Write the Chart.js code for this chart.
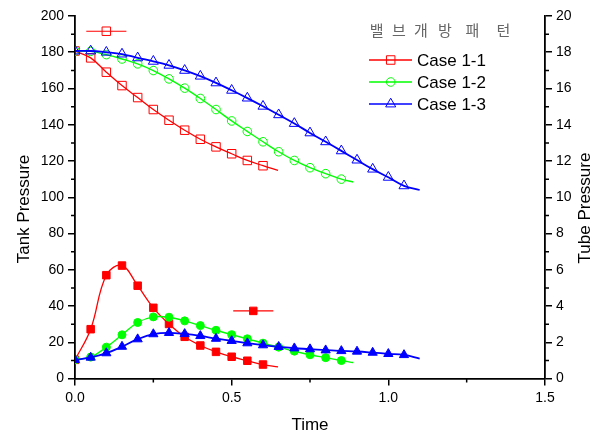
<!DOCTYPE html>
<html>
<head>
<meta charset="utf-8">
<script src="https://cdn.jsdelivr.net/npm/chart.js@4/dist/chart.umd.min.js"></script>
<style>
  html, body { margin: 0; padding: 0; background: #fff; }
  #wrap { width: 606px; height: 437px; }
</style>
</head>
<body>
<div id="wrap"><canvas id="myCanvas" width="606" height="437"></canvas></div>
<script>
'use strict';

// data

const times = [0, 0.05, 0.1, 0.15, 0.2, 0.25, 0.3, 0.35, 0.4, 0.45, 0.5,
  0.55, 0.6, 0.65, 0.7, 0.75, 0.8, 0.85, 0.9, 0.95, 1.0, 1.05];

// tank pressure (left axis), open markers
const tank11 = [180.7, 176.9, 169, 161.6, 155, 148.4, 142.5, 137, 132, 127.8, 124, 120.3, 117.4];
const tank11End = [0.648, 114.8];
const tank12 = [180.7, 180.5, 178.7, 176.3, 173.6, 169.9, 165.3, 160.2, 154.5, 148.4, 142.1,
  136.3, 130.6, 125.1, 120.3, 116.3, 113, 110];
const tank12End = [0.888, 108.4];
const tank13 = [180.7, 180.7, 180, 179, 176.9, 175, 172.8, 170, 166.8, 163.1, 159,
  154.7, 150.2, 145.5, 140.7, 135.5, 130.6, 125.6, 120.5, 115.5, 111, 106.3];
const tank13End = [1.1, 104];

// tube pressure (right axis), filled markers
const tube11 = [1.03, 2.72, 5.70, 6.23, 5.12, 3.90, 3.01, 2.30, 1.82, 1.47, 1.20, 0.98, 0.77];
const tube11End = [0.648, 0.64];
const tube12 = [1.03, 1.18, 1.73, 2.41, 3.09, 3.40, 3.38, 3.18, 2.92, 2.66, 2.42,
  2.19, 1.95, 1.73, 1.51, 1.31, 1.15, 0.99];
const tube12End = [0.888, 0.88];
const tube13 = [1.03, 1.16, 1.40, 1.76, 2.17, 2.45, 2.52, 2.46, 2.35, 2.20, 2.08,
  1.95, 1.84, 1.75, 1.67, 1.62, 1.56, 1.52, 1.49, 1.43, 1.36, 1.30];
const tube13End = [1.1, 1.10];

// two stray legend marks left in the plot
const strayTankX = [0.036, 0.1, 0.164];
const strayTankY = [191.6, 191.6, 191.6];
const strayTubeX = [0.505, 0.569, 0.633];
const strayTubeY = [3.73, 3.73, 3.73];

const caseNames = ['Case 1-1', 'Case 1-2', 'Case 1-3'];
const legendTitle = '밸브개방패턴';

const xTicks = [0, 0.5, 1.0, 1.5];

// styles

const RED = '#ff0000';
const GREEN = '#00ff00';
const BLUE = '#0000ff';
const FONT = '"Liberation Sans", Arial, sans-serif';

function makePoints(values, end) {
  let pts = [];
  for (let i = 0; i < values.length; i++) {
    pts.push({ x: times[i], y: values[i] });
  }
  pts.push({ x: end[0], y: end[1] });
  return pts;
}

function radii(values, r) {
  let arr = values.map(() => r);
  arr.push(0);
  return arr;
}

function series(values, end, color, style, r, filled, axis, width) {
  return {
    data: makePoints(values, end),
    yAxisID: axis,
    borderColor: color,
    borderWidth: width,
    pointStyle: style,
    pointRadius: radii(values, r),
    pointHoverRadius: radii(values, r),
    pointBorderColor: color,
    pointBorderWidth: 1,
    pointBackgroundColor: filled ? color : 'rgba(0,0,0,0)',
    tension: 0.4,
    fill: false
  };
}

function stray(xs, ys, color, filled, axis) {
  return {
    data: xs.map((x, i) => ({ x: x, y: ys[i] })),
    yAxisID: axis,
    borderColor: color,
    borderWidth: 1.2,
    pointStyle: 'rect',
    pointRadius: [0, filled ? 5.3 : 6, 0],
    pointBorderColor: color,
    pointBorderWidth: 1,
    pointBackgroundColor: filled ? color : 'rgba(0,0,0,0)',
    tension: 0,
    fill: false
  };
}

const datasets = [
  series(tube13, tube13End, BLUE, 'triangle', 5.3, true, 'y2', 1.8),
  series(tube12, tube12End, GREEN, 'circle', 4, true, 'y2', 1.4),
  series(tube11, tube11End, RED, 'rect', 5.3, true, 'y2', 1.3),
  series(tank13, tank13End, BLUE, 'triangle', 5.8, false, 'y', 1.8),
  series(tank12, tank12End, GREEN, 'circle', 4.3, false, 'y', 1.4),
  series(tank11, tank11End, RED, 'rect', 6, false, 'y', 1.3),
  stray(strayTankX, strayTankY, RED, false, 'y'),
  stray(strayTubeX, strayTubeY, RED, true, 'y2')
];

// extra drawing: minor ticks, axis titles, legend

const decor = {
  id: 'decor',
  afterDraw(chart) {
    const ctx = chart.ctx;
    const sx = chart.scales.x;
    const sy = chart.scales.y;
    const sy2 = chart.scales.y2;
    ctx.save();
    ctx.strokeStyle = '#000';
    ctx.lineWidth = 1.5;
    ctx.beginPath();
    for (let v = 10; v < 200; v += 20) {
      const p = sy.getPixelForValue(v);
      ctx.moveTo(sy.right, p);
      ctx.lineTo(sy.right - 4, p);
    }
    for (let v = 1; v < 20; v += 2) {
      const p = sy2.getPixelForValue(v);
      ctx.moveTo(sy2.left, p);
      ctx.lineTo(sy2.left + 4, p);
    }
    for (let v = 0.25; v < 1.5; v += 0.5) {
      const p = sx.getPixelForValue(v);
      ctx.moveTo(p, sx.top);
      ctx.lineTo(p, sx.top + 4);
    }
    ctx.stroke();

    // axis titles
    ctx.fillStyle = '#000';
    ctx.font = '17px ' + FONT;
    ctx.textAlign = 'center';
    ctx.textBaseline = 'middle';
    ctx.fillText('Time', (chart.chartArea.left + chart.chartArea.right) / 2, 425);
    ctx.save();
    ctx.translate(24, 209);
    ctx.rotate(-Math.PI / 2);
    ctx.fillText('Tank Pressure', 0, 0);
    ctx.restore();
    ctx.save();
    ctx.translate(585, 208);
    ctx.rotate(-Math.PI / 2);
    ctx.fillText('Tube Pressure', 0, 0);
    ctx.restore();

    // legend title
    const titleX = [376.7, 399, 421, 445, 472.5, 503.5];
    ctx.fillStyle = '#666';
    ctx.font = '15px "Noto Sans CJK KR", sans-serif';
    for (let i = 0; i < legendTitle.length; i++) {
      ctx.fillText(legendTitle[i], titleX[i], 30);
    }

    // legend entries, styled like the tank series
    const rowY = [60, 82, 104];
    ctx.textAlign = 'left';
    ctx.font = '17px ' + FONT;
    for (let i = 0; i < 3; i++) {
      const ds = chart.data.datasets[5 - i];
      ctx.strokeStyle = ds.borderColor;
      ctx.lineWidth = 1.3;
      ctx.beginPath();
      ctx.moveTo(369, rowY[i]);
      ctx.lineTo(412, rowY[i]);
      ctx.stroke();
      ctx.fillStyle = 'rgba(0,0,0,0)';
      ctx.lineWidth = 1;
      Chart.helpers.drawPoint(ctx, {
        pointStyle: ds.pointStyle,
        radius: ds.pointRadius[0],
        rotation: 0,
        borderWidth: 1
      }, 390.7, rowY[i]);
      ctx.fillStyle = '#000';
      ctx.fillText(caseNames[i], 417, rowY[i] + 1);
    }
    ctx.restore();
  }
};

const axisBorder = { display: true, color: '#000', width: 1.8 };
const axisGrid = { drawOnChartArea: false, color: '#000', lineWidth: 1.5, tickLength: 7 };
const tickFont = { family: FONT, size: 14 };

const config = {
  type: 'line',
  data: { datasets: datasets },
  options: {
    responsive: false,
    animation: false,
    events: [],
    layout: { padding: { top: 16, right: 0, left: 0, bottom: 0 } },
    plugins: {
      legend: { display: false },
      tooltip: { enabled: false }
    },
    scales: {
      x: {
        type: 'linear',
        min: 0,
        max: 1.5,
        border: axisBorder,
        grid: axisGrid,
        afterBuildTicks: (scale) => { scale.ticks = xTicks.map(v => ({ value: v })); },
        afterFit: (scale) => { scale.height = 58.5; },
        ticks: {
          color: '#000',
          font: tickFont,
          padding: 4,
          maxRotation: 0,
          callback: (v) => Number(v).toFixed(1)
        }
      },
      y: {
        type: 'linear',
        position: 'left',
        min: 0,
        max: 200,
        border: axisBorder,
        grid: axisGrid,
        afterFit: (scale) => { scale.width = 75; },
        ticks: { color: '#000', font: tickFont, stepSize: 20, padding: 4 }
      },
      y2: {
        type: 'linear',
        position: 'right',
        min: 0,
        max: 20,
        border: axisBorder,
        grid: axisGrid,
        afterFit: (scale) => { scale.width = 61; },
        ticks: { color: '#000', font: tickFont, stepSize: 2, padding: 4 }
      }
    }
  },
  plugins: [decor]
};

const chart = document.getElementById('myCanvas');
const myChart = new Chart(chart, config);
</script>
</body>
</html>
